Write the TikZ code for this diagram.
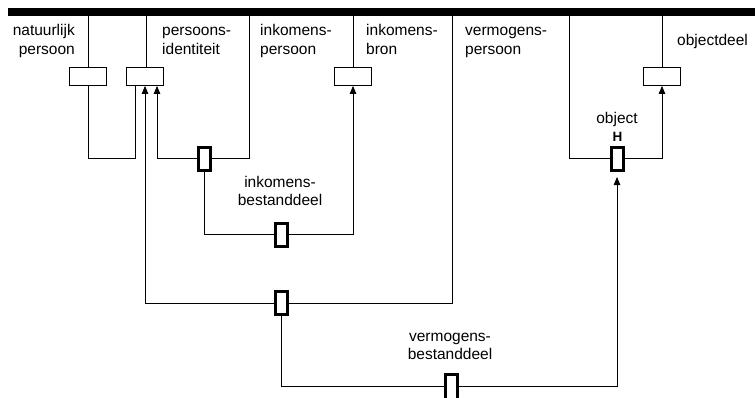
\documentclass[tikz,border=0pt]{standalone}
\usepackage{fontspec}
\setmainfont{Liberation Sans}
\usetikzlibrary{arrows.meta,backgrounds}
\begin{document}
\begin{tikzpicture}[x=1pt,y=-1pt,
  lbl/.style={font=\fontsize{15.5}{18.5}\selectfont, inner sep=0pt},
  ent/.style={draw, line width=0.8pt, minimum width=37pt, minimum height=18pt, inner sep=0pt, fill=white},
  hub/.style={draw, line width=3pt, minimum width=12pt, minimum height=23pt, inner sep=0pt, fill=white},
  ln/.style={line width=0.8pt},
  arr/.style={ln, -{Triangle[width=6.5pt,length=8pt]}}]
\useasboundingbox (0,0) rectangle (755,397);

% thick top bar
\node[fill=black, inner sep=0pt, minimum width=747pt, minimum height=8pt, anchor=north west] (bar) at (8,8) {};

% entity boxes
\node[ent] (b1) at (88,76.5) {};
\node[ent] (b2) at (145,76.5) {};
\node[ent] (b3) at (353,76.5) {};
\node[ent] (b4) at (662,76.5) {};

% junction hubs
\node[hub] (h1) at (204.5,158.5) {};
\node[hub] (h2) at (281,234.5) {};
\node[hub] (h3) at (281,303) {};
\node[hub, minimum height=26pt] (h4) at (451,387.5) {};
\node[hub] (h5) at (617,158.5) {};

\coordinate (k1) at (249,158.5);
\coordinate (k2) at (452,303);
\coordinate (k3) at (569,158.5);
\coordinate (k4) at (281,386);

% connectors, kept behind the white-filled hubs
\begin{scope}[on background layer]
\draw[ln] (b1.north) -- (b1.north |- bar.south);
\draw[ln] ([xshift=1pt]b2.north) -- ([xshift=1pt]b2.north |- bar.south);
\draw[ln] (b3.north) -- (b3.north |- bar.south);
\draw[ln] (b4.north) -- (b4.north |- bar.south);
\draw[ln] (b1.south) -- (b1.south |- h1.west) -| ([xshift=-10pt]b2.south);
\draw[ln] (h1.east) -- (k1) -- (k1 |- bar.south);
\draw[arr] (h1.west) -| ([xshift=12pt]b2.south);
\draw[ln] (h1.south) |- (h2.west);
\draw[arr] (h2.east) -| (b3.south);
\draw[ln] (h3.east) -- (k2) -- (k2 |- bar.south);
\draw[arr] (h3.west) -| (b2.south);
\draw[ln] (h3.south) -- (k4) -- (k4 -| h4.west);
\draw[arr, shorten >=5.5pt] (k4 -| h4.east) -| (h5.south);
\draw[ln] (h5.west) -- (k3) -- (k3 |- bar.south);
\draw[arr] (h5.east) -| (b4.south);
\end{scope}

% labels
\node[lbl, align=right, anchor=north east] (t1) at (75,22.5) {\strut natuurlijk\\persoon};
\node[lbl, align=left, anchor=north west] (t2) at (162,22.5) {\strut persoons-\\identiteit};
\node[lbl, align=left, anchor=north west] (t3) at (260,22.5) {\strut inkomens-\\persoon};
\node[lbl, align=left, anchor=north west] (t4) at (366,22.5) {\strut inkomens-\\bron};
\node[lbl, align=left, anchor=north west] (t5) at (465,22.5) {\strut vermogens-\\persoon};
\node[lbl, anchor=base west] (t6) at (677,45) {objectdeel};
\node[lbl, anchor=base] (t7) at (617,123.5) {object};
\node[inner sep=0pt, font=\fontsize{13.5}{15}\selectfont\bfseries, anchor=base] (t8) at (617.5,141) {H};
\node[lbl, align=center, anchor=north] (t9) at (280,174) {\strut inkomens-\\bestanddeel};
\node[lbl, align=center, anchor=north] (t10) at (450,328) {\strut vermogens-\\bestanddeel};
\end{tikzpicture}
\end{document}
